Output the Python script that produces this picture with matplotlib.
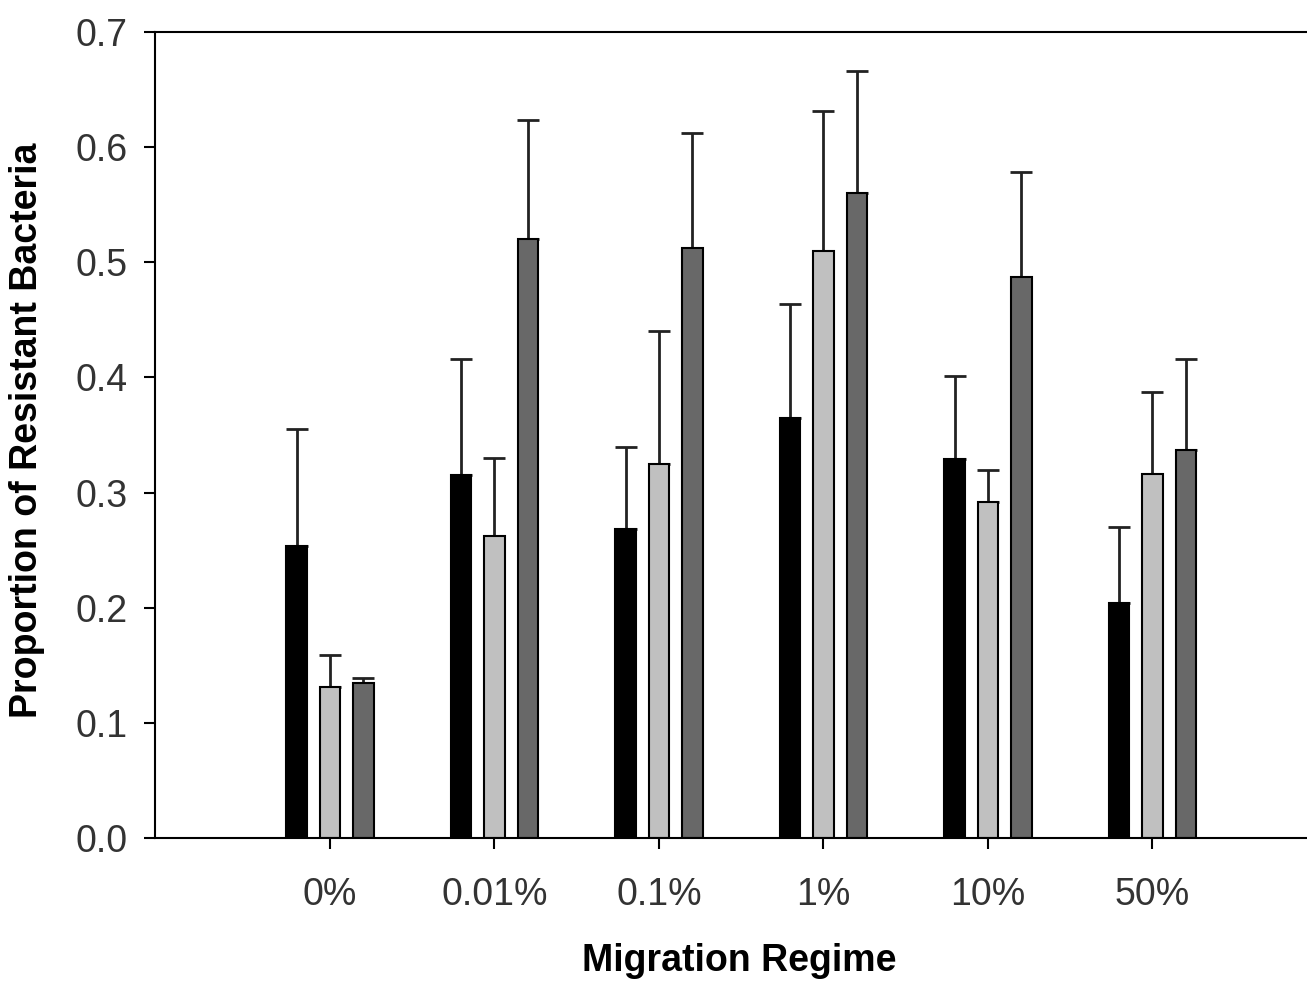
import numpy as np
import matplotlib
matplotlib.use("Agg")
import matplotlib.pyplot as plt

regimes = ["0%", "0.01%", "0.1%", "1%", "10%", "50%"]
black_vals = [0.254, 0.315, 0.268, 0.365, 0.329, 0.204]
black_err = [0.101, 0.101, 0.072, 0.099, 0.072, 0.066]
light_vals = [0.131, 0.262, 0.325, 0.510, 0.292, 0.316]
light_err = [0.028, 0.068, 0.115, 0.121, 0.028, 0.071]
dark_vals = [0.135, 0.520, 0.512, 0.560, 0.487, 0.337]
dark_err = [0.004, 0.104, 0.100, 0.106, 0.091, 0.079]

plt.rcParams['font.family'] = ['Liberation Sans', 'DejaVu Sans']

fig = plt.figure(figsize=(13.07, 9.82), dpi=100)
ax = fig.add_axes([0.1186, 0.1466, 0.8814, 0.8208])

x = np.arange(len(regimes))
width = 0.125
offset = 0.203
series = [(black_vals, black_err, '#000000'),
          (light_vals, light_err, '#c0c0c0'),
          (dark_vals, dark_err, '#686868')]
for i, (vals, err, col) in enumerate(series):
    pos = x + (i - 1) * offset
    ax.bar(pos, vals, width, color=col, edgecolor='black', linewidth=1.5, zorder=2)
    ax.errorbar(pos, vals, yerr=[np.zeros(len(vals)), err], fmt='none',
                ecolor='#222222', elinewidth=2, capsize=8, capthick=2, zorder=1)

ax.set_xlim(-1.064, 5.94)
ax.set_ylim(0, 0.7)
ax.set_yticks(np.arange(0, 0.71, 0.1))
ax.set_yticklabels([f"{v:.1f}" for v in np.arange(0, 0.71, 0.1)])
ax.set_xticks(x)
ax.set_xticklabels(regimes)

ax.spines['right'].set_visible(False)
for s in ['left', 'top', 'bottom']:
    ax.spines[s].set_linewidth(1.5)
ax.tick_params(axis='y', direction='out', length=8, width=1.5, pad=12,
               labelsize=27, labelcolor='#333333')
ax.tick_params(axis='x', direction='out', length=8, width=1.5, pad=20,
               labelsize=27, labelcolor='#333333')

ax.set_ylabel("Proportion of Resistant Bacteria", fontsize=27, fontweight='bold')
ax.set_xlabel("Migration Regime", fontsize=27, fontweight='bold')
ax.xaxis.set_label_coords((739 - 155) / (1307 - 155), -(943 - 838) / 806)
ax.yaxis.set_label_coords(-(155 - 45) / (1307 - 155), (838 - 430) / 806)

fig.savefig("out.png", dpi=100)
